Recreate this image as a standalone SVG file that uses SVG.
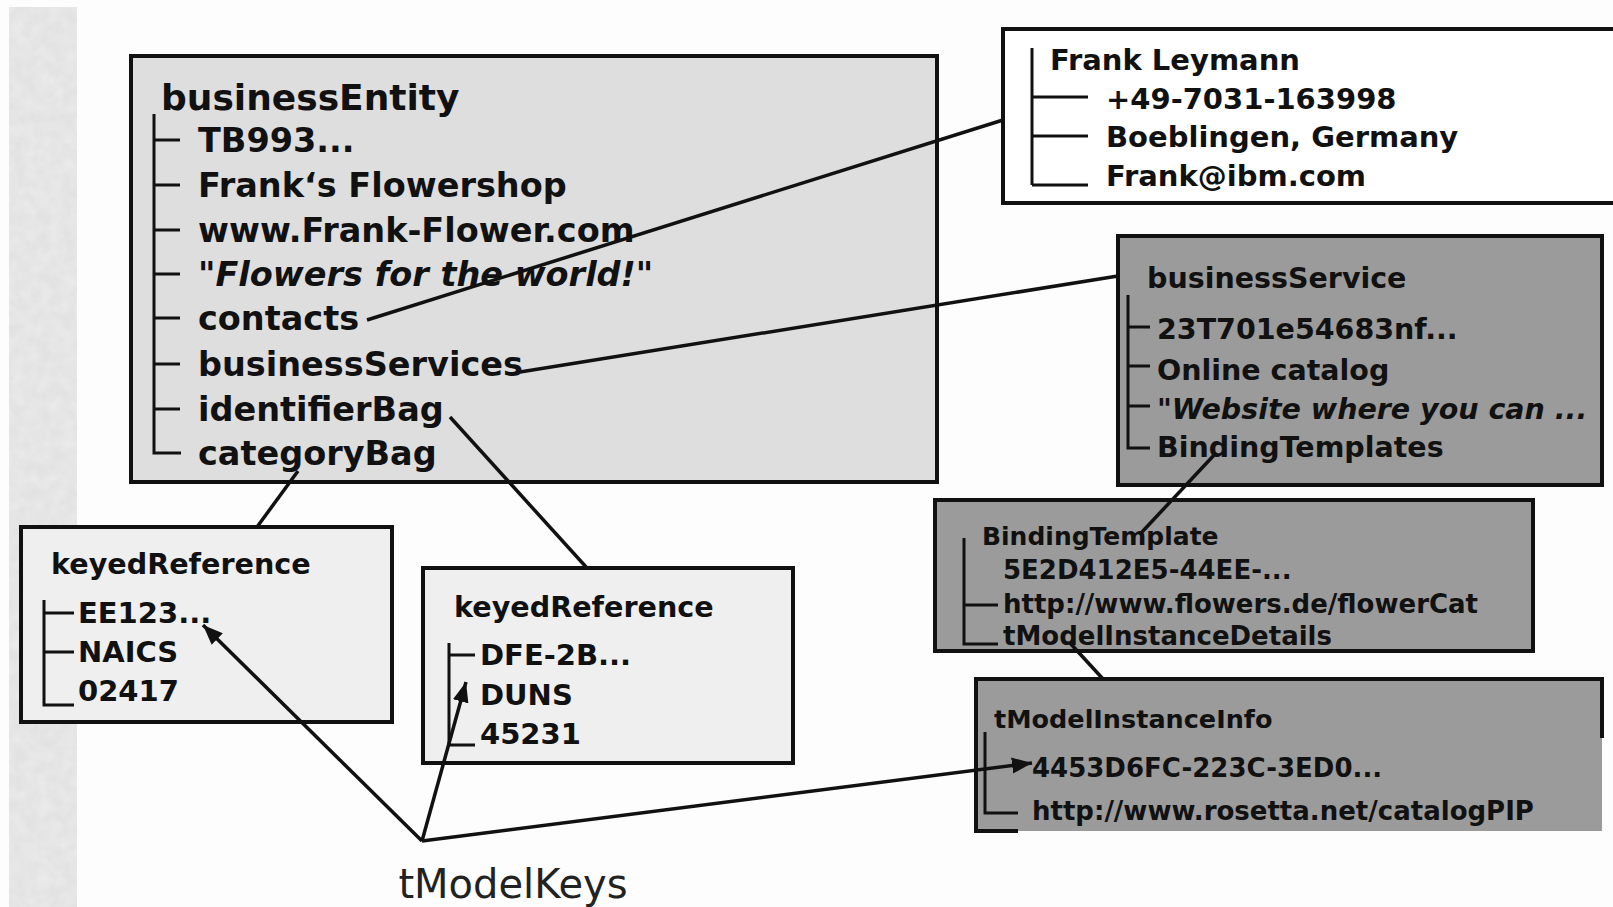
<svg xmlns="http://www.w3.org/2000/svg" width="1613" height="907" viewBox="0 0 1613 907">
<defs>
<style>
.t{font-family:"DejaVu Sans","Liberation Sans",sans-serif;font-weight:bold;fill:#111}
.it{font-style:italic}
.tree{fill:none;stroke:#111;stroke-width:3}
.box{stroke:#111;stroke-width:4}
.con{fill:none;stroke:#111;stroke-width:3.5}
.light{fill:#dedede}
.pale{fill:#efefef}
.dark{fill:#9b9b9b}
</style>
<filter id="grain" x="0" y="0" width="100%" height="100%">
<feTurbulence type="fractalNoise" baseFrequency="0.08" numOctaves="3" seed="4"/>
<feColorMatrix type="matrix" values="0 0 0 0 0.85  0 0 0 0 0.85  0 0 0 0 0.85  0 0 0 -1.2 0.9"/>
</filter>
<marker id="ah" markerUnits="userSpaceOnUse" markerWidth="24" markerHeight="18" refX="20" refY="9" orient="auto">
<path d="M0,1 L20,9 L0,17 z" fill="#111"/>
</marker>
</defs>
<rect x="0" y="0" width="1613" height="907" fill="#fdfdfd"/>
<rect x="9" y="7" width="68" height="900" fill="#e2e2e2"/>
<rect x="9" y="7" width="68" height="900" filter="url(#grain)"/>

<g id="businessEntity">
<rect class="box light" x="131" y="56" width="806" height="426"/>
<text class="t" x="161" y="110" font-size="36">businessEntity</text>
<g font-size="33.5">
<text class="t" x="198" y="152">TB993...</text>
<text class="t" x="198" y="197">Frank‘s Flowershop</text>
<text class="t" x="198" y="242">www.Frank-Flower.com</text>
<text class="t it" x="198" y="286">"Flowers for the world!"</text>
<text class="t" x="198" y="330">contacts</text>
<text class="t" x="198" y="376">businessServices</text>
<text class="t" x="198" y="421">identifierBag</text>
<text class="t" x="198" y="465">categoryBag</text>
</g>
<path class="tree" stroke-width="3.5" d="M154,114 V453 H181 M154,140 H180 M154,185 H180 M154,230 H180 M154,274 H180 M154,318 H180 M154,364 H180 M154,409 H180"/>
</g>

<g id="contact">
<rect class="box" fill="#fff" x="1003" y="29" width="630" height="174"/>
<g font-size="29">
<text class="t" x="1050" y="70">Frank Leymann</text>
<text class="t" x="1106" y="109">+49-7031-163998</text>
<text class="t" x="1106" y="147">Boeblingen, Germany</text>
<text class="t" x="1106" y="186">Frank@ibm.com</text>
</g>
<path class="tree" stroke-width="2" d="M1032,48 V185 M1032,97 H1088 M1032,136 H1088"/>
<path class="tree" d="M1032,185 H1088"/>
</g>

<g id="businessService">
<rect class="box dark" x="1118" y="236" width="484" height="249"/>
<text class="t" x="1147" y="288" font-size="28.5">businessService</text>
<g font-size="28.5">
<text class="t" x="1157" y="339">23T701e54683nf...</text>
<text class="t" x="1157" y="380">Online catalog</text>
<text class="t" x="1157" y="419">"<tspan class="it">Website where you can ...</tspan></text>
<text class="t" x="1157" y="457">BindingTemplates</text>
</g>
<path class="tree" d="M1128,295 V448 H1150 M1128,327 H1150 M1128,366 H1150 M1128,406 H1150"/>
</g>

<g id="bindingTemplate">
<rect class="box dark" x="935" y="500" width="598" height="151"/>
<text class="t" x="982" y="545" font-size="25">BindingTemplate</text>
<g font-size="26">
<text class="t" x="1003" y="579">5E2D412E5-44EE-...</text>
<text class="t" x="1003" y="613">http://www.flowers.de/flowerCat</text>
<text class="t" x="1003" y="645">tModelInstanceDetails</text>
</g>
<path class="tree" d="M964,538 V644 H998 M964,605 H998"/>
</g>

<g id="tModelInstanceInfo">
<rect class="dark" x="976" y="679" width="626" height="152"/>
<path class="box" fill="none" d="M1018,831 H976 V679 H1602 V738"/>
<text class="t" x="994" y="728" font-size="25.5">tModelInstanceInfo</text>
<g font-size="26">
<text class="t" x="1032" y="777">4453D6FC-223C-3ED0...</text>
<text class="t" x="1032" y="820">http://www.rosetta.net/catalogPIP</text>
</g>
<path class="tree" d="M985,732 V813 H1018"/>
</g>

<g id="keyedReference1">
<rect class="box pale" x="21" y="527" width="371" height="195"/>
<text class="t" x="51" y="574" font-size="28.6">keyedReference</text>
<g font-size="29">
<text class="t" x="78" y="623">EE123...</text>
<text class="t" x="78" y="662">NAICS</text>
<text class="t" x="78" y="701">02417</text>
</g>
<path class="tree" stroke-width="2.5" d="M44,600 V705 H74 M44,613 H74 M44,652 H74"/>
</g>

<g id="keyedReference2">
<rect class="box pale" x="423" y="568" width="370" height="195"/>
<text class="t" x="454" y="617" font-size="28.6">keyedReference</text>
<g font-size="29">
<text class="t" x="480" y="665">DFE-2B...</text>
<text class="t" x="480" y="705">DUNS</text>
<text class="t" x="480" y="744">45231</text>
</g>
<path class="tree" stroke-width="2.5" d="M449,643 V745 M449,655 H475 M449,745 H475"/>
</g>

<g id="tModelKeys">
<text x="513" y="898" font-family="DejaVu Sans, Liberation Sans, sans-serif" font-size="40" fill="#222" text-anchor="middle">tModelKeys</text>
</g>

<g id="connectors">
<line class="con" x1="367" y1="320" x2="1003" y2="120"/>
<line class="con" x1="520" y1="372" x2="1118" y2="276"/>
<line class="con" x1="298" y1="471" x2="257" y2="527"/>
<line class="con" x1="450" y1="417" x2="587" y2="568"/>
<line class="con" x1="1216" y1="453" x2="1142" y2="532"/>
<line class="con" x1="1070" y1="643" x2="1103" y2="679"/>
<line class="con" x1="422" y1="841" x2="203" y2="625" marker-end="url(#ah)"/>
<line class="con" x1="422" y1="841" x2="466" y2="682" marker-end="url(#ah)"/>
<line class="con" x1="422" y1="841" x2="1032" y2="763" marker-end="url(#ah)"/>
</g>
</svg>
